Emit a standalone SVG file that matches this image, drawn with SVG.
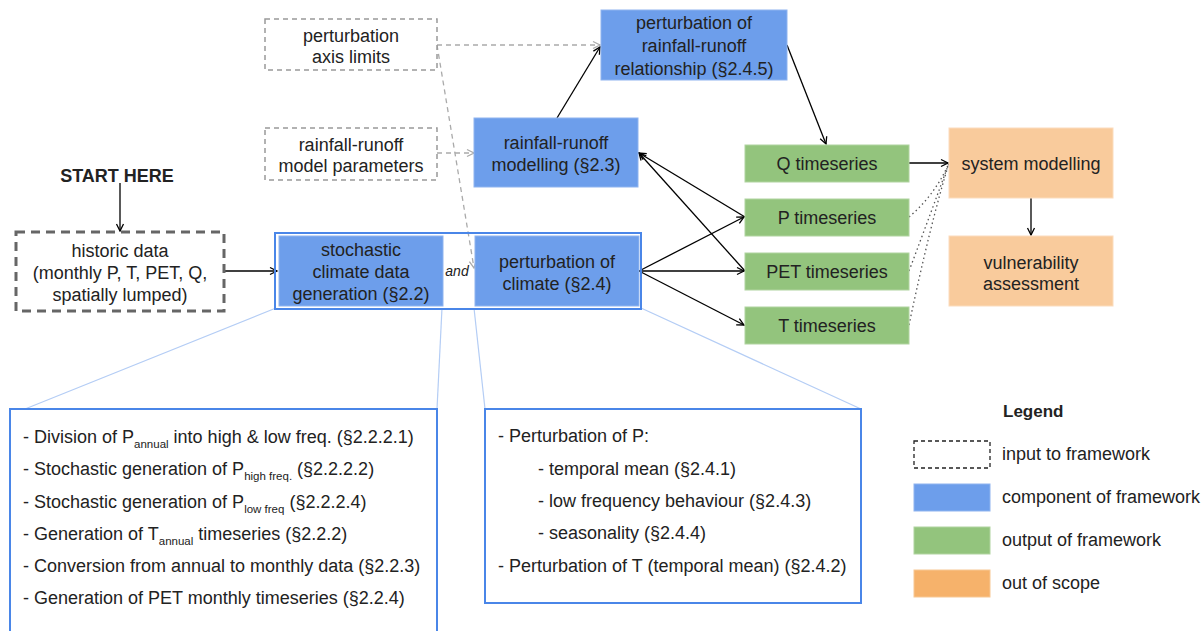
<svg xmlns="http://www.w3.org/2000/svg" width="1203" height="631" viewBox="0 0 1203 631">
<defs>
<marker id="ah" markerWidth="10" markerHeight="10" refX="8" refY="5" orient="auto" markerUnits="userSpaceOnUse"><path d="M1,1.5 L8,5 L1,8.5" fill="none" stroke="#000" stroke-width="1.3"/></marker>
<marker id="ahg" markerWidth="10" markerHeight="10" refX="8" refY="5" orient="auto" markerUnits="userSpaceOnUse"><path d="M1,1.5 L8,5 L1,8.5" fill="none" stroke="#aaa" stroke-width="1.3"/></marker>
<style>
text{font-family:"Liberation Sans",Arial,sans-serif;font-size:18px;fill:#222}
.c{text-anchor:middle}
.blue{fill:#6d9eeb;stroke:#8fb4ef;stroke-width:1}
.green{fill:#93c47d;stroke:#b0d4a0;stroke-width:1}
.orange{fill:#f9cb9c;stroke:#fbdcbd;stroke-width:1}
.inp{fill:#fff;stroke:#999;stroke-width:1.5;stroke-dasharray:5 4}
.frame{fill:none;stroke:#4a86e8;stroke-width:2}
.zoom{fill:none;stroke:#b4cdf5;stroke-width:1.2}
.arr{fill:none;stroke:#000;stroke-width:1.3;marker-end:url(#ah)}
.garr{fill:none;stroke:#aaa;stroke-width:1.3;stroke-dasharray:5 4}
.dot{fill:none;stroke:#555;stroke-width:1.3;stroke-dasharray:1.5 3}
.sub{font-size:11.5px}
</style>
</defs>

<g id="connectors">
<line class="arr" x1="120" y1="183" x2="120" y2="231"/>
<line class="arr" x1="224" y1="271" x2="277" y2="271"/>
<line class="arr" x1="557" y1="118" x2="600" y2="47"/>
<line class="arr" x1="787" y1="45" x2="826" y2="144"/>
<line class="arr" x1="745" y1="217" x2="639" y2="153"/>
<line class="arr" x1="745" y1="271" x2="639" y2="153"/>
<line class="arr" x1="639" y1="271" x2="744" y2="217"/>
<line class="arr" x1="639" y1="271" x2="744" y2="271"/>
<line class="arr" x1="639" y1="271" x2="744" y2="325"/>
<line class="arr" x1="909" y1="163" x2="948" y2="163"/>
<line class="arr" x1="1031" y1="198" x2="1031" y2="235"/>
<path class="dot" d="M909,217 Q935,195 949,163"/>
<path class="dot" d="M909,271 Q932,210 949,163"/>
<path class="dot" d="M909,325 Q930,225 949,163"/>
<polyline class="garr" points="437,45 600,45" marker-end="url(#ahg)"/>
<polyline class="garr" points="437,45 474,268" marker-end="url(#ahg)"/>
<polyline class="garr" points="437,153 474,153" marker-end="url(#ahg)"/>
<line class="zoom" x1="276" y1="308" x2="25" y2="409"/>
<line class="zoom" x1="442" y1="308" x2="437" y2="409"/>
<line class="zoom" x1="474" y1="308" x2="485" y2="409"/>
<line class="zoom" x1="641" y1="308" x2="861" y2="409"/>
</g>

<g id="start">
<text class="c" x="117" y="182" style="font-weight:bold">START HERE</text>
</g>

<g id="historic">
<rect x="16" y="232" width="208" height="79" fill="#fff" stroke="#666" stroke-width="3" stroke-dasharray="9 6"/>
<text class="c" x="120" y="257">historic data</text>
<text class="c" x="120" y="279">(monthly P, T, PET, Q,</text>
<text class="c" x="120" y="301">spatially lumped)</text>
</g>

<g id="axislimits">
<rect class="inp" x="265" y="19" width="172" height="51"/>
<text class="c" x="351" y="42">perturbation</text>
<text class="c" x="351" y="63">axis limits</text>
</g>

<g id="rrparams">
<rect class="inp" x="265" y="128" width="172" height="52"/>
<text class="c" x="351" y="151">rainfall-runoff</text>
<text class="c" x="351" y="172">model parameters</text>
</g>

<g id="climateframe">
<rect class="frame" x="275" y="233" width="366" height="76" stroke-width="1.5"/>
<text x="457" y="276" style="font-size:14px;font-style:italic" class="c">and</text>
</g>

<g id="stochastic">
<rect class="blue" x="279" y="236" width="164" height="70"/>
<text class="c" x="361" y="256">stochastic</text>
<text class="c" x="361" y="278">climate data</text>
<text class="c" x="361" y="300">generation (§2.2)</text>
</g>

<g id="pertclimate">
<rect class="blue" x="475" y="236" width="164" height="70"/>
<text class="c" x="557" y="268">perturbation of</text>
<text class="c" x="557" y="290">climate (§2.4)</text>
</g>

<g id="rrmodel">
<rect class="blue" x="474" y="118" width="164" height="69"/>
<text class="c" x="556" y="149">rainfall-runoff</text>
<text class="c" x="556" y="171">modelling (§2.3)</text>
</g>

<g id="pertrr">
<rect class="blue" x="601" y="10" width="186" height="70"/>
<text class="c" x="694" y="29">perturbation of</text>
<text class="c" x="694" y="52">rainfall-runoff</text>
<text class="c" x="694" y="75">relationship (§2.4.5)</text>
</g>

<g id="qts"><rect class="green" x="745" y="145" width="164" height="37"/><text class="c" x="827" y="170">Q timeseries</text></g>
<g id="pts"><rect class="green" x="745" y="199" width="164" height="37"/><text class="c" x="827" y="224">P timeseries</text></g>
<g id="petts"><rect class="green" x="745" y="253" width="164" height="37"/><text class="c" x="827" y="278">PET timeseries</text></g>
<g id="tts"><rect class="green" x="745" y="307" width="164" height="37"/><text class="c" x="827" y="332">T timeseries</text></g>

<g id="sysmodel">
<rect class="orange" x="949" y="128" width="164" height="70"/>
<text class="c" x="1031" y="170">system modelling</text>
</g>

<g id="vuln">
<rect class="orange" x="949" y="236" width="164" height="70"/>
<text class="c" x="1031" y="269">vulnerability</text>
<text class="c" x="1031" y="290">assessment</text>
</g>

<g id="stochdetail">
<rect class="frame" x="10" y="409" width="427" height="240"/>
<text x="23" y="443">- Division of P<tspan class="sub" dy="5">annual</tspan><tspan dy="-5"> into high &amp; low freq. (§2.2.2.1)</tspan></text>
<text x="23" y="475">- Stochastic generation of P<tspan class="sub" dy="5">high freq.</tspan><tspan dy="-5"> (§2.2.2.2)</tspan></text>
<text x="23" y="508">- Stochastic generation of P<tspan class="sub" dy="5">low freq</tspan><tspan dy="-5"> (§2.2.2.4)</tspan></text>
<text x="23" y="540">- Generation of T<tspan class="sub" dy="5">annual</tspan><tspan dy="-5"> timeseries (§2.2.2)</tspan></text>
<text x="23" y="572">- Conversion from annual to monthly data (§2.2.3)</text>
<text x="23" y="604">- Generation of PET monthly timeseries (§2.2.4)</text>
</g>

<g id="pertdetail">
<rect class="frame" x="485" y="409" width="376" height="194"/>
<text x="498" y="442">- Perturbation of P:</text>
<text x="538" y="475">- temporal mean (§2.4.1)</text>
<text x="538" y="507">- low frequency behaviour (§2.4.3)</text>
<text x="538" y="539">- seasonality (§2.4.4)</text>
<text x="498" y="572">- Perturbation of T (temporal mean) (§2.4.2)</text>
</g>

<g id="legend">
<text x="1003" y="417" style="font-weight:bold;font-size:17px">Legend</text>
<rect x="914" y="441" width="76" height="27" fill="#fff" stroke="#222" stroke-width="1.3" stroke-dasharray="4 3"/>
<text x="1002" y="460">input to framework</text>
<rect x="914" y="484" width="76" height="27" fill="#6d9eeb" stroke="#8fb4ef"/>
<text x="1002" y="503">component of framework</text>
<rect x="914" y="527" width="76" height="27" fill="#93c47d" stroke="#b0d4a0"/>
<text x="1002" y="546">output of framework</text>
<rect x="914" y="570" width="76" height="27" fill="#f6b26b" stroke="#f8c894"/>
<text x="1002" y="589">out of scope</text>
</g>
</svg>
